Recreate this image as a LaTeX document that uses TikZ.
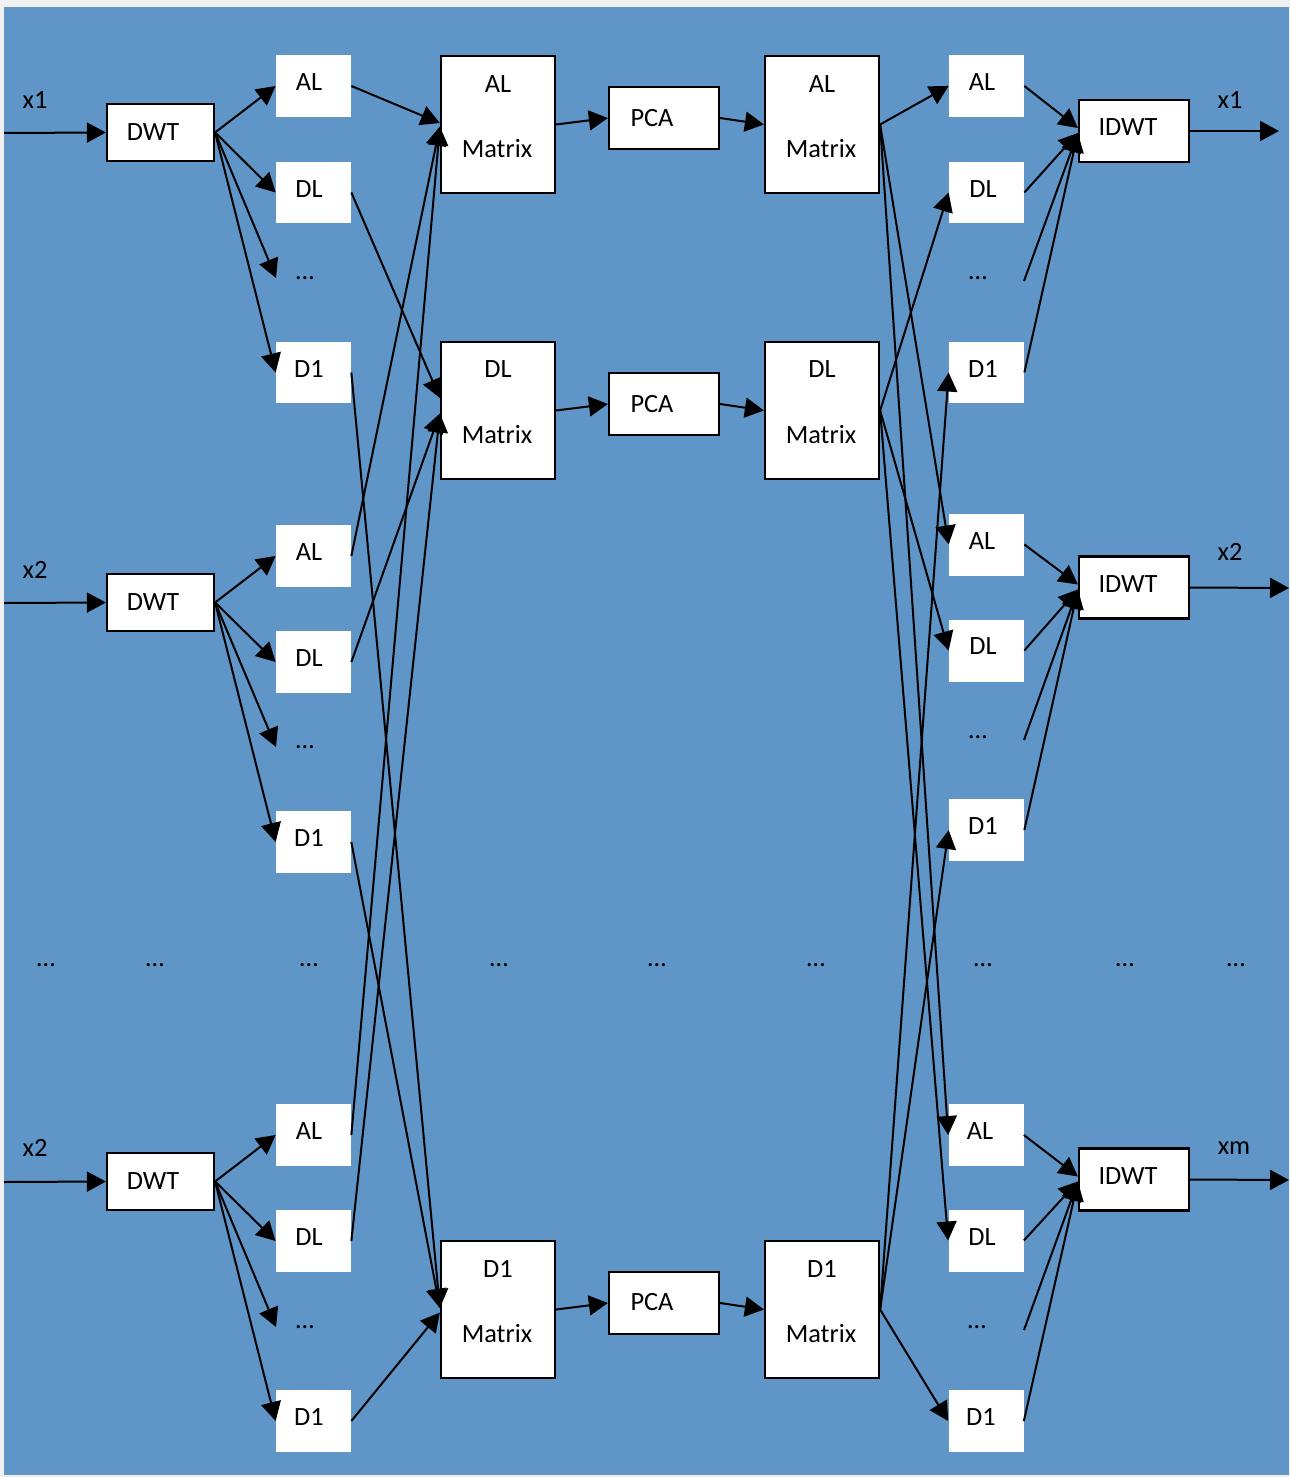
\documentclass[tikz,border=0pt]{standalone}
\usepackage{fontspec}
\setmainfont{Carlito}
\usetikzlibrary{arrows.meta,calc}
\definecolor{bgblue}{RGB}{96,149,199}
\definecolor{pagegrey}{RGB}{240,240,240}
\begin{document}
\begin{tikzpicture}[x=0.02cm,y=-0.02cm,
  font=\fontsize{15}{18}\selectfont,
  conn/.style={line width=0.04cm, -{Triangle[length=0.38cm,width=0.4cm]}},
  framed/.style={draw, line width=0.045cm, fill=white, inner sep=0pt},
  coef/.style={fill=white, inner sep=0pt, minimum width=1.5cm, minimum height=1.24cm},
  dwtbox/.style={framed, minimum width=2.14cm, minimum height=1.14cm},
  matbox/.style={framed, minimum width=2.28cm, minimum height=2.74cm},
  pcabox/.style={framed, minimum width=2.2cm, minimum height=1.24cm},
  idwtbox/.style={framed, minimum width=2.2cm, minimum height=1.24cm},
  txt/.style={inner sep=0pt}
]
\fill[pagegrey] (0,0) rectangle (1290,1477);
\fill[bgblue] (4,7) rectangle (1289,1475);
\useasboundingbox (0,0) rectangle (1290,1477);

% ---------- inputs and DWT ----------
\coordinate (in1) at (4,133);
\coordinate (in2) at (4,603);
\coordinate (in3) at (4,1182);
\node[txt] (lx1) at (35,100) {x1};
\node[txt] (lx2) at (35,570) {x2};
\node[txt] (lx3) at (35,1148) {x2};
\node[dwtbox] (dwtA) at (160.5,132.5) {};
\node[dwtbox] (dwtB) at (160.5,602.5) {};
\node[dwtbox] (dwtC) at (160.5,1181.5) {};
\node[txt] (dwtAt) at (153,132) {DWT};
\node[txt] (dwtBt) at (153,602) {DWT};
\node[txt] (dwtCt) at (153,1181) {DWT};

% ---------- left coefficient boxes ----------
\node[coef] (lal1) at (313.5,86) {};
\node[coef] (ldl1) at (313.5,192.5) {};
\node[coef] (ld11) at (313.5,372.5) {};
\node[coef] (lal2) at (313.5,556) {};
\node[coef] (ldl2) at (313.5,662) {};
\node[coef] (ld12) at (313.5,842) {};
\node[coef] (lal3) at (313.5,1135) {};
\node[coef] (ldl3) at (313.5,1241) {};
\node[coef] (ld13) at (313.5,1421) {};
\node[txt] (lal1t) at (309,82) {AL};
\node[txt] (ldl1t) at (309,189) {DL};
\node[txt] (ld11t) at (309,369) {D1};
\node[txt] (lal2t) at (309,552) {AL};
\node[txt] (ldl2t) at (309,658) {DL};
\node[txt] (ld12t) at (309,838) {D1};
\node[txt] (lal3t) at (309,1131) {AL};
\node[txt] (ldl3t) at (309,1237) {DL};
\node[txt] (ld13t) at (309,1417) {D1};
\coordinate (ldots1) at (276,278);
\coordinate (ldots2) at (276,747);
\coordinate (ldots3) at (276,1327);
\node[txt] (ldots1t) at (305,278) {…};
\node[txt] (ldots2t) at (305,747) {…};
\node[txt] (ldots3t) at (305,1327) {…};

% ---------- matrices and PCA ----------
\node[matbox] (lmA) at (498,124.5) {};
\node[matbox] (lmD) at (498,410.5) {};
\node[matbox] (lm1) at (498,1309.5) {};
\node[txt] (lmAt) at (498,84) {AL};
\node[txt] (lmAm) at (497,148.5) {Matrix};
\node[txt] (lmDt) at (498,369.5) {DL};
\node[txt] (lmDm) at (497,434.5) {Matrix};
\node[txt] (lm1t) at (498,1269) {D1};
\node[txt] (lm1m) at (497,1333.5) {Matrix};

\node[pcabox] (pcaA) at (664,118) {};
\node[pcabox] (pcaD) at (664,404) {};
\node[pcabox] (pca1) at (664,1303) {};
\node[txt] (pcaAt) at (652,118) {PCA};
\node[txt] (pcaDt) at (652,404) {PCA};
\node[txt] (pca1t) at (652,1302) {PCA};

\node[matbox] (rmA) at (822,124.5) {};
\node[matbox] (rmD) at (822,410.5) {};
\node[matbox] (rm1) at (822,1309.5) {};
\node[txt] (rmAt) at (822,84) {AL};
\node[txt] (rmAm) at (821,148.5) {Matrix};
\node[txt] (rmDt) at (822,369.5) {DL};
\node[txt] (rmDm) at (821,434.5) {Matrix};
\node[txt] (rm1t) at (822,1269) {D1};
\node[txt] (rm1m) at (821,1333.5) {Matrix};

% ---------- right coefficient boxes ----------
\node[coef] (ral1) at (986.5,86) {};
\node[coef] (rdl1) at (986.5,192.5) {};
\node[coef] (rd11) at (986.5,372.5) {};
\node[coef] (ral2) at (986.5,544.5) {};
\node[coef] (rdl2) at (986.5,650.5) {};
\node[coef] (rd12) at (986.5,830) {};
\node[coef] (ral3) at (986,1135) {};
\node[coef] (rdl3) at (986,1240.5) {};
\node[coef] (rd13) at (986,1421) {};
\node[txt] (ral1t) at (982,82) {AL};
\node[txt] (rdl1t) at (983,189) {DL};
\node[txt] (rd11t) at (983,369) {D1};
\node[txt] (ral2t) at (982,541) {AL};
\node[txt] (rdl2t) at (983,646) {DL};
\node[txt] (rd12t) at (983,826) {D1};
\node[txt] (ral3t) at (980,1131) {AL};
\node[txt] (rdl3t) at (982,1237) {DL};
\node[txt] (rd13t) at (981,1417) {D1};
\coordinate (rdots1) at (1024,281);
\coordinate (rdots2) at (1024,740);
\coordinate (rdots3) at (1024,1330);
\node[txt] (rdots1t) at (978,278) {…};
\node[txt] (rdots2t) at (978,737) {…};
\node[txt] (rdots3t) at (977,1327) {…};

% ---------- IDWT and outputs ----------
\node[idwtbox] (idA) at (1134,131) {};
\node[idwtbox] (idB) at (1134,587.5) {};
\node[idwtbox] (idC) at (1134,1179.5) {};
\node[txt] (idAt) at (1128,127) {IDWT};
\node[txt] (idBt) at (1128,584) {IDWT};
\node[txt] (idCt) at (1128,1176) {IDWT};
\coordinate (out1) at (1279,131);
\coordinate (out2) at (1289,588);
\coordinate (out3) at (1289,1180);
\node[txt] (rx1) at (1230,100) {x1};
\node[txt] (rx2) at (1230,552) {x2};
\node[txt] (rx3) at (1234,1148) {xm};

% ---------- row of dots ----------
\foreach \xx [count=\i] in {46,155,309,499,657,816,983,1125,1236}
  \node[txt] (mid\i) at (\xx,965) {…};

% ---------- connectors ----------
\draw[conn] (in1) -- (dwtA.west);
\draw[conn] (in2) -- (dwtB.west);
\draw[conn] (in3) -- (dwtC.west);

\draw[conn] (dwtA.east) -- (lal1.west);
\draw[conn] (dwtA.east) -- (ldl1.west);
\draw[conn] (dwtA.east) -- (ldots1);
\draw[conn] (dwtA.east) -- (ld11.west);
\draw[conn] (dwtB.east) -- (lal2.west);
\draw[conn] (dwtB.east) -- (ldl2.west);
\draw[conn] (dwtB.east) -- (ldots2);
\draw[conn] (dwtB.east) -- (ld12.west);
\draw[conn] (dwtC.east) -- (lal3.west);
\draw[conn] (dwtC.east) -- (ldl3.west);
\draw[conn] (dwtC.east) -- (ldots3);
\draw[conn] (dwtC.east) -- (ld13.west);

\draw[conn] (lal1.east) -- ($(lmA.west)+(0,-1.5)$);
\draw[conn] (lal2.east) -- ($(lmA.west)+(0,2)$);
\draw[conn] (lal3.east) -- ($(lmA.west)+(0,2)$);
\draw[conn] (ldl1.east) -- ($(lmD.west)+(0,-12.5)$);
\draw[conn] (ldl2.east) -- ($(lmD.west)+(0,3)$);
\draw[conn] (ldl3.east) -- ($(lmD.west)+(0,3)$);
\draw[conn] (ld11.east) -- ($(lm1.west)+(0,-1.5)$);
\draw[conn] (ld12.east) -- ($(lm1.west)+(0,-1.5)$);
\draw[conn] (ld13.east) -- ($(lm1.west)+(0,3)$);

\draw[conn] (lmA.east) -- (pcaA.west);
\draw[conn] (lmD.east) -- (pcaD.west);
\draw[conn] (lm1.east) -- (pca1.west);
\draw[conn] (pcaA.east) -- (rmA.west);
\draw[conn] (pcaD.east) -- (rmD.west);
\draw[conn] (pca1.east) -- (rm1.west);

\draw[conn] (rmA.east) -- (ral1.west);
\draw[conn] (rmA.east) -- (ral2.west);
\draw[conn] (rmA.east) -- (ral3.west);
\draw[conn] (rmD.east) -- (rdl1.west);
\draw[conn] (rmD.east) -- (rdl2.west);
\draw[conn] (rmD.east) -- (rdl3.west);
\draw[conn] (rm1.east) -- (rd11.west);
\draw[conn] (rm1.east) -- (rd12.west);
\draw[conn] (rm1.east) -- (rd13.west);

\draw[conn] (ral1.east) -- ($(idA.west)+(0,-3)$);
\draw[conn] (rdl1.east) -- ($(idA.west)+(0,2)$);
\draw[conn] (rdots1) -- ($(idA.west)+(0,2)$);
\draw[conn] (rd11.east) -- ($(idA.west)+(0,2)$);
\draw[conn] (ral2.east) -- ($(idB.west)+(0,-3)$);
\draw[conn] (rdl2.east) -- ($(idB.west)+(0,2)$);
\draw[conn] (rdots2) -- ($(idB.west)+(0,2)$);
\draw[conn] (rd12.east) -- ($(idB.west)+(0,2)$);
\draw[conn] (ral3.east) -- ($(idC.west)+(0,-3)$);
\draw[conn] (rdl3.east) -- ($(idC.west)+(0,2)$);
\draw[conn] (rdots3) -- ($(idC.west)+(0,2)$);
\draw[conn] (rd13.east) -- ($(idC.west)+(0,2)$);

\draw[conn] (idA.east) -- (out1);
\draw[conn] (idB.east) -- (out2);
\draw[conn] (idC.east) -- (out3);
\end{tikzpicture}
\end{document}
